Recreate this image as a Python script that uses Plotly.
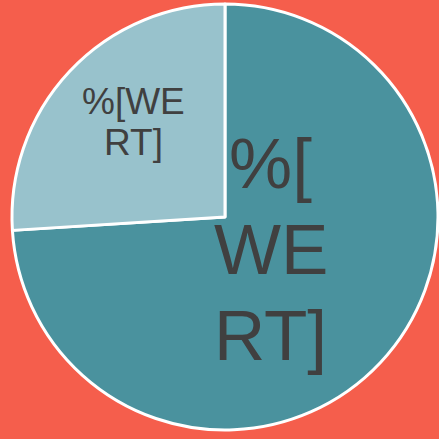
import math
import plotly.graph_objects as go

labels = ["A", "B"]
values = [74, 26]
texts = ["%[<br>WE<br>RT]", "%[WE<br>RT]"]
colors = ["#4A929E", "#98C2CC"]
text_sizes = [71, 37]
line_heights = [86, 41]      # px between lines
radius_frac = [0.27, 0.63]   # label distance from centre, fraction of radius
label_nudge = [(4, -7), (6, -3)]  # px fine adjustment (x right, y down)

W = H = 439
dom_x = [0.0273, 0.9977]
dom_y = [0.0205, 0.9909]

fig = go.Figure(go.Pie(
    labels=labels,
    values=values,
    textinfo="none",
    sort=False,
    direction="clockwise",
    rotation=0,
    marker=dict(colors=colors, line=dict(color="#FFFFFF", width=3)),
    hoverinfo="none",
    domain=dict(x=dom_x, y=dom_y),
))

# place labels along each slice's mid angle
cx = (dom_x[0] + dom_x[1]) / 2 * W
cy = (dom_y[0] + dom_y[1]) / 2 * H
R = min((dom_x[1] - dom_x[0]) * W, (dom_y[1] - dom_y[0]) * H) / 2
total = sum(values)
start = 0.0
for v, t, fs, lh, rf, (nx, ny) in zip(values, texts, text_sizes, line_heights, radius_frac, label_nudge):
    mid = (start + v / 2) / total * 2 * math.pi
    start += v
    px = cx + rf * R * math.sin(mid) + nx
    py = cy + rf * R * math.cos(mid) - ny
    lines = t.split("<br>")
    n = len(lines)
    for i, ln in enumerate(lines):
        fig.add_annotation(
            x=px / W, y=py / H, xref="paper", yref="paper",
            text=ln, showarrow=False, xanchor="center", yanchor="middle",
            yshift=-(i - (n - 1) / 2) * lh,
            font=dict(family="Liberation Sans, Arial, sans-serif", size=fs, color="#404040"),
        )

fig.update_layout(
    width=W, height=H,
    margin=dict(l=0, r=0, t=0, b=0),
    paper_bgcolor="#F55E4C",
    plot_bgcolor="#F55E4C",
    showlegend=False,
)
fig.write_html("out.html", config={"displayModeBar": False},
               post_script="document.body.style.margin='0';")
